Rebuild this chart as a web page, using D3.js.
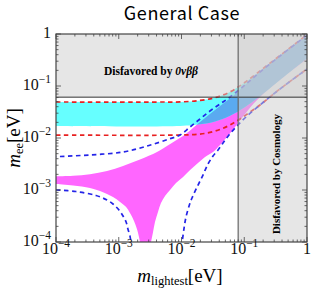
<!DOCTYPE html>
<html>
<head>
<meta charset="utf-8">
<script src="https://cdn.jsdelivr.net/npm/d3@7"></script>
<style>
  body { margin: 0; background: #fff; }
  svg { display: block; }
</style>
</head>
<body>
<svg id="chart" width="313" height="290"></svg>
<script>
"use strict";

// All points are [m_lightest (eV), m_ee (eV)].

// Inverted ordering band (cyan); its top edge is also the red 3-sigma upper line
var io_top = [[1e-4, 0.0492], [0.005, 0.0492], [0.0095, 0.0494], [0.0197, 0.0528],
  [0.0342, 0.0598], [0.0593, 0.077], [0.103, 0.118], [0.257, 0.275], [1, 0.97]];
var io_bottom = [[1e-4, 0.017], [0.0095, 0.017], [0.0197, 0.0183], [0.0342, 0.0207],
  [0.0593, 0.0267], [0.103, 0.0395], [0.16, 0.058], [0.257, 0.091], [0.371, 0.13], [1, 0.34]];

// Normal ordering band (magenta)
var no_upper = [[1e-4, 0.00182], [1.87e-4, 0.00187], [3.48e-4, 0.00201], [6.5e-4, 0.00232],
  [1.17e-3, 0.0029], [2.18e-3, 0.00386], [4.07e-3, 0.00538], [5.87e-3, 0.00702],
  [7.87e-3, 0.00875], [1.06e-2, 0.0109], [1.52e-2, 0.0156], [2.37e-2, 0.0243],
  [4.11e-2, 0.0412], [6.62e-2, 0.0642], [0.103, 0.105], [0.257, 0.27], [1, 0.95]];
var no_lower_left = [[1e-4, 0.0013], [1.87e-4, 0.00122], [3.48e-4, 0.00109], [5.02e-4, 0.000957],
  [6.5e-4, 0.000838], [8.1e-4, 0.000733], [1.05e-3, 0.000588], [1.31e-3, 0.000471],
  [1.51e-3, 0.000361], [1.75e-3, 0.000254], [1.95e-3, 0.000178], [2.1e-3, 0.000125],
  [2.18e-3, 1e-4]];
var no_lower_right = [[3.27e-3, 1e-4], [3.52e-3, 0.000156], [3.78e-3, 0.000243], [4.22e-3, 0.000378],
  [4.71e-3, 0.000562], [5.46e-3, 0.000767], [6.56e-3, 0.001], [8.17e-3, 0.00136],
  [1.06e-2, 0.00178], [1.37e-2, 0.00243], [1.83e-2, 0.0033], [2.37e-2, 0.00431],
  [3.18e-2, 0.00538], [4.11e-2, 0.00733], [5.31e-2, 0.0104], [7.13e-2, 0.0163],
  [0.103, 0.029], [0.16, 0.0538], [0.371, 0.13], [1, 0.331]];

// Dashed 3-sigma ranges
var io_dash_lower = [[1e-4, 0.0114], [9.46e-3, 0.0114], [1.97e-2, 0.0119], [2.84e-2, 0.0128],
  [4.11e-2, 0.0146], [5.93e-2, 0.0178], [8.56e-2, 0.0232], [0.124, 0.0316], [0.178, 0.0431],
  [0.371, 0.0876], [1, 0.212]];
var no_dash_upper = [[1e-4, 0.00437], [3.36e-4, 0.00471], [1.17e-3, 0.00538], [3.03e-3, 0.00718],
  [6.32e-3, 0.00957], [9.46e-3, 0.0114], [1.37e-2, 0.0163], [1.97e-2, 0.0232], [2.84e-2, 0.033],
  [4.11e-2, 0.0451], [5.93e-2, 0.0614], [0.103, 0.105], [0.178, 0.186], [0.371, 0.378], [1, 0.95]];
var no_dash_lower_left = [[1e-4, 1e-3], [2.08e-4, 0.000936], [4.34e-4, 0.000784], [6.5e-4, 0.000642],
  [8.1e-4, 0.000538], [1.01e-3, 0.000412], [1.17e-3, 0.000316], [1.31e-3, 0.000243],
  [1.4e-3, 0.000178], [1.51e-3, 0.00013], [1.57e-3, 9.57e-5]];
var no_dash_lower_right = [[1.02e-2, 9.57e-5], [1.1e-2, 0.000186], [1.18e-2, 0.000303],
  [1.32e-2, 0.000492], [1.47e-2, 0.000702], [1.77e-2, 0.00114], [2.2e-2, 0.00194],
  [2.64e-2, 0.00316], [3.18e-2, 0.00451], [3.82e-2, 0.00588], [4.58e-2, 0.00801],
  [5.71e-2, 0.0114], [7.66e-2, 0.017], [0.111, 0.0265], [0.178, 0.0431], [0.371, 0.0876], [1, 0.212]];

// Excluded regions
var bound_0vbb = 0.061;
var bound_cosmology = 0.08;

var major_ticks = [1e-4, 1e-3, 1e-2, 1e-1, 1];
var tick_exponents = ['\u22124', '\u22123', '\u22122', '\u22121', ''];

var svg = d3.select('#chart');
var x = d3.scaleLog().domain([1e-4, 1]).range([56, 307]);
var y = d3.scaleLog().domain([1e-4, 1]).range([242, 34]);

var curve_line = d3.line()
  .x(function(d) { return x(d[0]); })
  .y(function(d) { return y(d[1]); })
  .curve(d3.curveCatmullRom.alpha(0.5));

// Join several curve pieces into one closed outline, with sharp corners between pieces.
function outline(pieces) {
  return pieces.map(function(pts, i) {
    var d = curve_line(pts);
    return i === 0 ? d : 'L' + d.slice(1);
  }).join('') + 'Z';
}

function reversed(a) { return a.slice().reverse(); }

var defs = svg.append('defs');
defs.append('clipPath').attr('id', 'plot-clip')
  .append('rect')
  .attr('x', x(1e-4)).attr('y', y(1))
  .attr('width', x(1) - x(1e-4)).attr('height', y(1e-4) - y(1));

var no_path = outline([no_upper, reversed(no_lower_right), reversed(no_lower_left)]);
var io_path = outline([io_top, reversed(io_bottom)]);

defs.append('clipPath').attr('id', 'no-clip')
  .append('path').attr('d', no_path);

var plot = svg.append('g').attr('clip-path', 'url(#plot-clip)');

plot.append('path').attr('d', no_path).attr('fill', '#ff66ff');
plot.append('path').attr('d', io_path).attr('fill', '#66ffff');
plot.append('g').attr('clip-path', 'url(#no-clip)')
  .append('path').attr('d', io_path).attr('fill', '#5aaaf0');

var dashed = [
  {pts: io_top, color: '#e82020', offset: 0},
  {pts: io_dash_lower, color: '#e82020', offset: 0},
  {pts: no_dash_upper, color: '#2424e8', offset: 4},
  {pts: no_dash_lower_left, color: '#2424e8', offset: 0},
  {pts: no_dash_lower_right, color: '#2424e8', offset: 4}
];
dashed.forEach(function(s) {
  plot.append('path')
    .attr('d', curve_line(s.pts))
    .attr('fill', 'none')
    .attr('stroke', s.color)
    .attr('stroke-width', 1.7)
    .attr('stroke-dasharray', '4.5,3.5')
    .attr('stroke-dashoffset', s.offset);
});

// Gray veils over the disfavored regions
plot.append('rect')
  .attr('x', x(1e-4)).attr('y', y(1))
  .attr('width', x(1) - x(1e-4)).attr('height', y(bound_0vbb) - y(1))
  .attr('fill', '#cdcdcd').attr('fill-opacity', 0.5);
plot.append('rect')
  .attr('x', x(bound_cosmology)).attr('y', y(1))
  .attr('width', x(1) - x(bound_cosmology)).attr('height', y(1e-4) - y(1))
  .attr('fill', '#cdcdcd').attr('fill-opacity', 0.5);

plot.append('line')
  .attr('x1', x(1e-4)).attr('x2', x(1))
  .attr('y1', y(bound_0vbb)).attr('y2', y(bound_0vbb))
  .attr('stroke', '#333').attr('stroke-width', 1);
plot.append('line')
  .attr('x1', x(bound_cosmology)).attr('x2', x(bound_cosmology))
  .attr('y1', y(1)).attr('y2', y(1e-4))
  .attr('stroke', '#666').attr('stroke-width', 1.2);

// Region labels
var serif = 'Liberation Serif, Times New Roman, serif';
var t1 = svg.append('text')
  .attr('x', 151).attr('y', 75)
  .attr('text-anchor', 'middle')
  .attr('font-family', serif).attr('font-weight', 'bold').attr('font-size', 11.5);
t1.append('tspan').text('Disfavored by ');
t1.append('tspan').attr('font-style', 'italic').text('0\u03bd\u03b2\u03b2');

svg.append('text')
  .attr('transform', 'translate(279.5,174) rotate(-90)')
  .attr('text-anchor', 'middle')
  .attr('font-family', serif).attr('font-weight', 'bold').attr('font-size', 11)
  .text('Disfavored by Cosmology');

// Frame and ticks
var frame = svg.append('g').attr('stroke', '#444').attr('fill', 'none');
frame.append('rect')
  .attr('x', x(1e-4)).attr('y', y(1))
  .attr('width', x(1) - x(1e-4)).attr('height', y(1e-4) - y(1))
  .attr('stroke-width', 1.2);

var minor_ticks = [];
[-4, -3, -2, -1].forEach(function(e) {
  for (var k = 2; k <= 9; k++) minor_ticks.push(k * Math.pow(10, e));
});
var all_ticks = major_ticks.map(function(v) { return {v: v, len: 5}; })
  .concat(minor_ticks.map(function(v) { return {v: v, len: 2.5}; }));

all_ticks.forEach(function(t) {
  var px = x(t.v), py = y(t.v);
  frame.append('line').attr('x1', px).attr('x2', px).attr('y1', y(1e-4)).attr('y2', y(1e-4) - t.len).attr('stroke-width', 0.8);
  frame.append('line').attr('x1', px).attr('x2', px).attr('y1', y(1)).attr('y2', y(1) + t.len).attr('stroke-width', 0.8);
  frame.append('line').attr('y1', py).attr('y2', py).attr('x1', x(1e-4)).attr('x2', x(1e-4) + t.len).attr('stroke-width', 0.8);
  frame.append('line').attr('y1', py).attr('y2', py).attr('x1', x(1)).attr('x2', x(1) - t.len).attr('stroke-width', 0.8);
});

// Tick labels
function tick_label(sel, v, i) {
  if (tick_exponents[i] === '') {
    sel.append('tspan').text('1');
    return;
  }
  sel.append('tspan').text('10');
  sel.append('tspan').attr('font-size', 11.5).attr('dy', -7).text(tick_exponents[i]);
}

major_ticks.forEach(function(v, i) {
  var tx = svg.append('text')
    .attr('x', x(v)).attr('y', 254)
    .attr('text-anchor', 'middle')
    .attr('font-family', serif).attr('font-size', 16).attr('fill', '#111');
  tick_label(tx, v, i);

  var ty = svg.append('text')
    .attr('x', 51).attr('y', y(v) + 4)
    .attr('text-anchor', 'end')
    .attr('font-family', serif).attr('font-size', 16).attr('fill', '#111');
  tick_label(ty, v, i);
});

// Axis titles
var xl = svg.append('text')
  .attr('x', 180).attr('y', 282)
  .attr('text-anchor', 'middle')
  .attr('font-family', serif).attr('font-size', 19);
xl.append('tspan').attr('font-style', 'italic').text('m');
xl.append('tspan').attr('font-size', 12.5).attr('dy', 3).text('lightest');
xl.append('tspan').attr('dy', -3).text('[eV]');

var yl = svg.append('text')
  .attr('transform', 'translate(19.5,138) rotate(-90)')
  .attr('text-anchor', 'middle')
  .attr('font-family', serif).attr('font-size', 19);
yl.append('tspan').attr('font-style', 'italic').text('m');
yl.append('tspan').attr('font-size', 12.5).attr('dy', 3).text('ee');
yl.append('tspan').attr('dy', -3).text('[eV]');

svg.append('text')
  .attr('x', 182).attr('y', 20)
  .attr('text-anchor', 'middle')
  .attr('font-family', 'Noto Sans CJK JP, Noto Sans, sans-serif')
  .attr('font-size', 18).attr('letter-spacing', 0.6)
  .text('General Case');
</script>
</body>
</html>
